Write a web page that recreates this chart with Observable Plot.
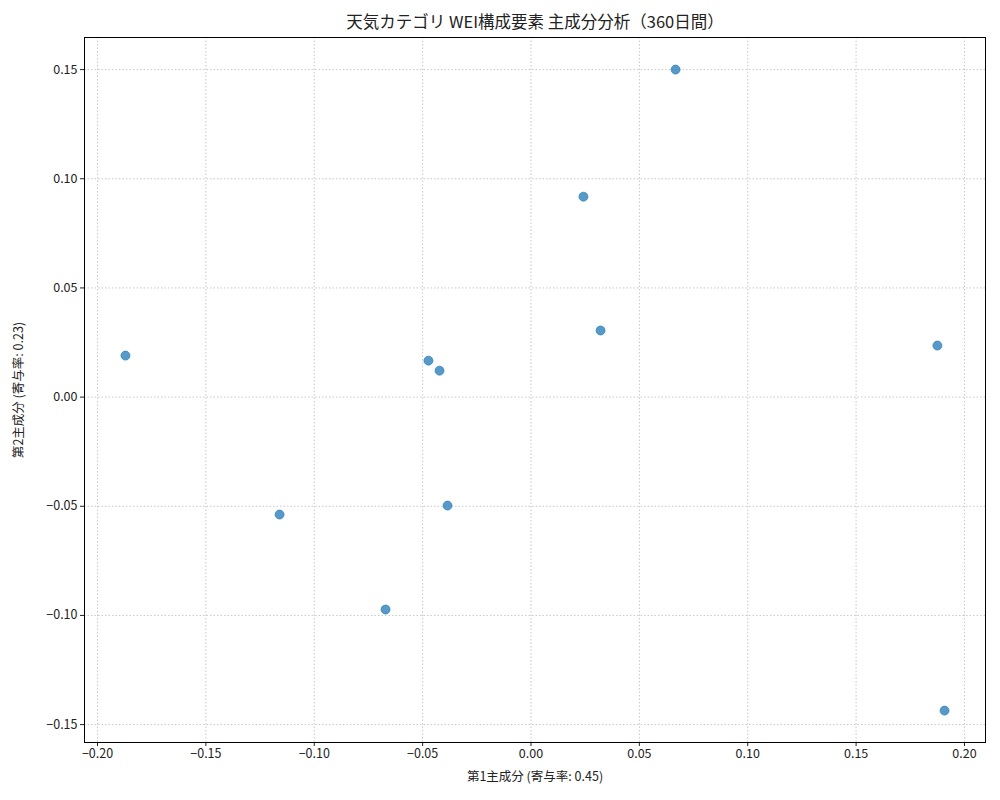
<!DOCTYPE html>
<html><head><meta charset="utf-8">
<script src="https://cdn.jsdelivr.net/npm/d3@7"></script>
<script src="https://cdn.jsdelivr.net/npm/@observablehq/plot@0.6"></script>
<style>
body{margin:0;background:#fff;font-family:"Noto Sans CJK JP","Noto Sans",sans-serif;}
#title{height:30px;line-height:42px;text-align:center;font-size:16.5px;color:#222;padding-left:70px;}
</style></head><body>
<div id="title">天気カテゴリ WEI構成要素 主成分分析（360日間）</div>
<div id="chart"></div>
<script>
const pc1 = [0.0667, 0.0242, 0.0321, 0.1875, -0.1871, -0.0473, -0.0422, -0.0385, -0.1160, -0.0671, 0.1908];
const pc2 = [0.1500, 0.0918, 0.0305, 0.0236, 0.0190, 0.0167, 0.0121, -0.0497, -0.0538, -0.0973, -0.1436];
const xTicks = [-0.20, -0.15, -0.10, -0.05, 0.00, 0.05, 0.10, 0.15, 0.20];
const yTicks = [-0.15, -0.10, -0.05, 0.00, 0.05, 0.10, 0.15];
const xLabel = "第1主成分 (寄与率: 0.45)";
const yLabel = "第2主成分 (寄与率: 0.23)";

const data = pc1.map((x, i) => ({x, y: pc2[i]}));
const fmt = d3.format(".2f");
const chart = Plot.plot({
  width: 1000, height: 770,
  marginLeft: 84, marginRight: 15, marginTop: 7, marginBottom: 58,
  style: {fontFamily: '"Noto Sans CJK JP","Noto Sans",sans-serif', fontSize: "12px", color: "#222"},
  x: {domain: [-0.206, 0.2097], ticks: xTicks, tickFormat: fmt, label: null},
  y: {domain: [-0.1582, 0.1647], ticks: yTicks, tickFormat: fmt, label: null},
  marks: [
    Plot.gridX(xTicks, {stroke: "#b0b0b0", strokeOpacity: 0.7, strokeDasharray: "1.5,2"}),
    Plot.gridY(yTicks, {stroke: "#b0b0b0", strokeOpacity: 0.7, strokeDasharray: "1.5,2"}),
    Plot.axisX(xTicks, {tickFormat: fmt, tickSize: 4, tickPadding: 3, label: xLabel, labelAnchor: "center", labelArrow: "none", labelOffset: 38, fontSize: 12.5}),
    Plot.axisY(yTicks, {tickFormat: fmt, tickSize: 4, tickPadding: 3, label: yLabel, labelAnchor: "center", labelArrow: "none", labelOffset: 70, fontSize: 12.5}),
    Plot.dot(data, {x: "x", y: "y", r: 4.5, fill: "#1f77b4", fillOpacity: 0.75, stroke: "#1f77b4", strokeOpacity: 0.8, strokeWidth: 0.8}),
    Plot.frame({stroke: "#000", strokeWidth: 1})
  ]
});
document.getElementById("chart").appendChild(chart);
</script></body></html>
